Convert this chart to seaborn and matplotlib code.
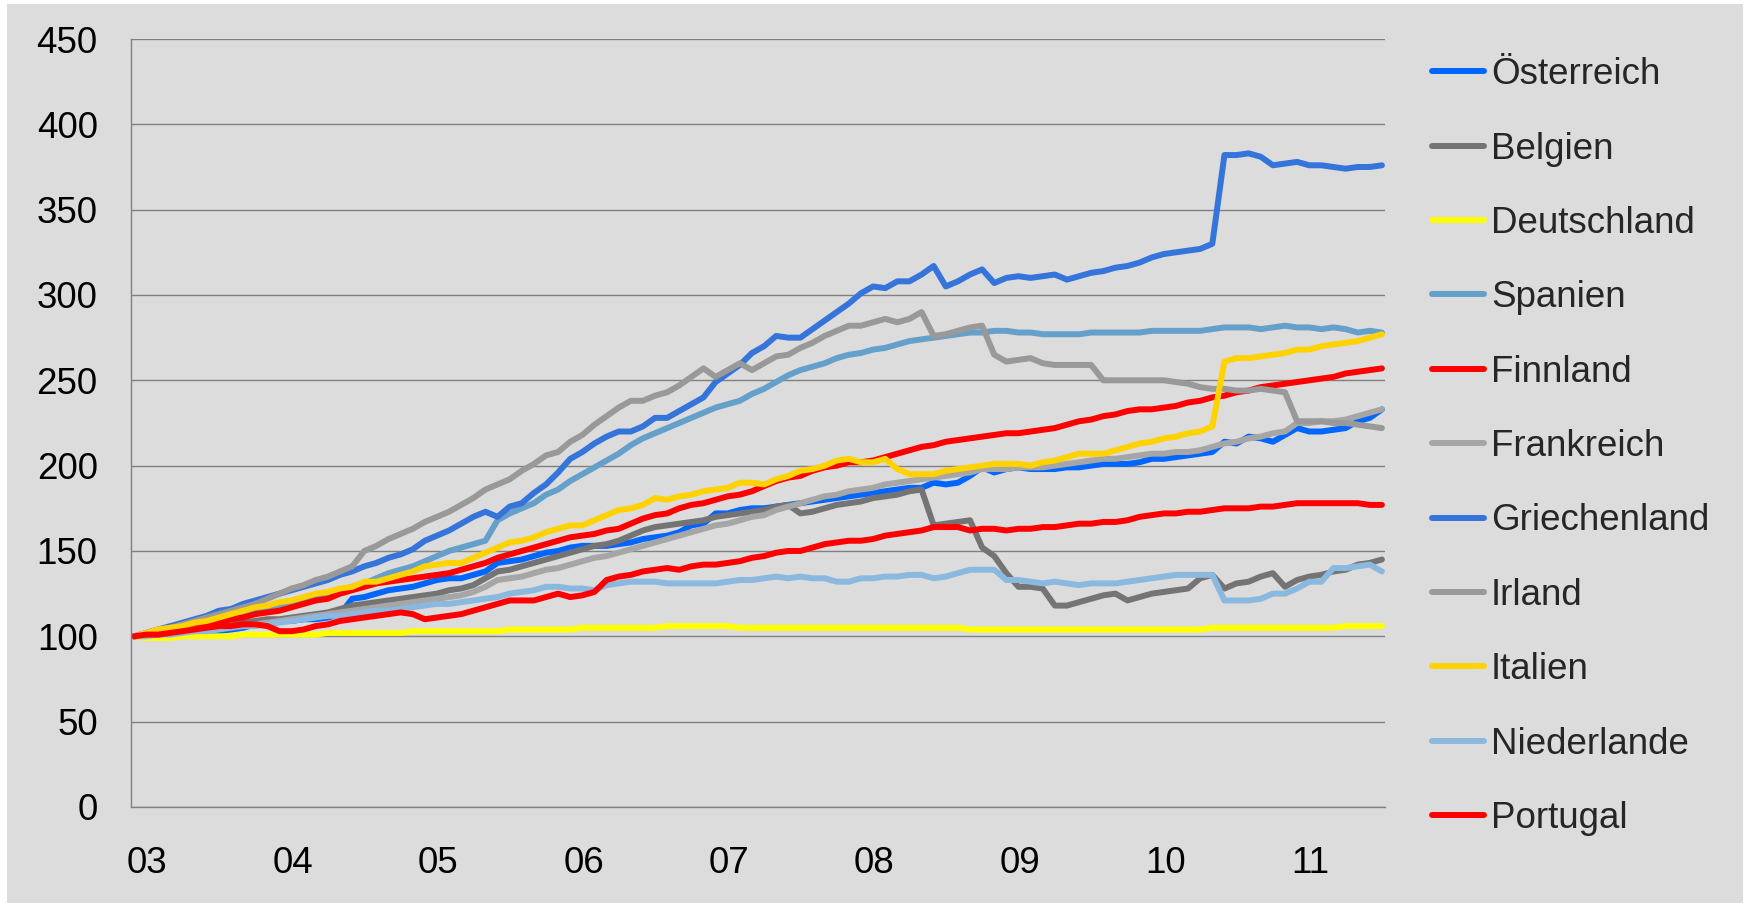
import numpy as np
import pandas as pd
import matplotlib
matplotlib.use("Agg")
import matplotlib.pyplot as plt
import seaborn as sns
from matplotlib.patches import Rectangle

# monthly index values, Jan 2003 = 100
countries = ["Österreich", "Belgien", "Deutschland", "Spanien", "Finnland",
             "Frankreich", "Griechenland", "Irland", "Italien", "Niederlande", "Portugal"]
colors = ["#0066FF", "#747474", "#FFFF00", "#65A0CB", "#FF0000",
          "#A6A6A6", "#3574DA", "#999999", "#FFD200", "#8BB8DF", "#FF0000"]
year_labels = ["03", "04", "05", "06", "07", "08", "09", "10", "11"]

oesterreich = [100, 101, 102, 102, 103, 103, 103, 103, 104, 105,
               107, 108, 109, 109, 110, 110, 111, 113, 122, 123,
               125, 127, 128, 129, 131, 133, 134, 134, 136, 138,
               143, 144, 145, 147, 149, 150, 152, 153, 153, 153,
               154, 155, 157, 158, 159, 161, 165, 166, 172, 172,
               174, 175, 175, 176, 177, 178, 179, 180, 181, 182,
               183, 184, 185, 186, 187, 187, 190, 189, 190, 194,
               199, 196, 198, 199, 198, 198, 198, 199, 199, 200,
               201, 201, 201, 202, 204, 204, 205, 206, 207, 208,
               214, 213, 217, 216, 214, 218, 222, 220, 220, 221,
               222, 226, 228, 233]
belgien = [100, 101, 102, 103, 104, 105, 106, 107, 107, 108,
           109, 110, 110, 111, 112, 113, 114, 116, 118, 119,
           120, 121, 122, 123, 124, 125, 127, 128, 130, 134,
           138, 139, 141, 143, 145, 147, 149, 151, 153, 154,
           156, 159, 162, 164, 165, 166, 167, 168, 170, 171,
           172, 173, 174, 176, 177, 172, 173, 175, 177, 178,
           179, 181, 182, 183, 185, 186, 165, 166, 167, 168,
           152, 147, 137, 129, 129, 128, 118, 118, 120, 122,
           124, 125, 121, 123, 125, 126, 127, 128, 134, 136,
           128, 131, 132, 135, 137, 129, 133, 135, 136, 138,
           139, 142, 143, 145]
deutschland = [100, 99, 99, 99, 100, 100, 100, 100, 100, 101,
               101, 101, 101, 101, 101, 101, 102, 102, 102, 102,
               102, 102, 102, 103, 103, 103, 103, 103, 103, 103,
               103, 104, 104, 104, 104, 104, 104, 105, 105, 105,
               105, 105, 105, 105, 106, 106, 106, 106, 106, 106,
               105, 105, 105, 105, 105, 105, 105, 105, 105, 105,
               105, 105, 105, 105, 105, 105, 105, 105, 105, 104,
               104, 104, 104, 104, 104, 104, 104, 104, 104, 104,
               104, 104, 104, 104, 104, 104, 104, 104, 104, 105,
               105, 105, 105, 105, 105, 105, 105, 105, 105, 105,
               106, 106, 106, 106]
spanien = [100, 101, 103, 104, 105, 106, 108, 110, 111, 112,
           114, 115, 117, 119, 121, 123, 125, 127, 129, 131,
           134, 137, 139, 141, 144, 147, 150, 152, 154, 156,
           168, 172, 175, 178, 183, 186, 191, 195, 199, 203,
           207, 212, 216, 219, 222, 225, 228, 231, 234, 236,
           238, 242, 245, 249, 253, 256, 258, 260, 263, 265,
           266, 268, 269, 271, 273, 274, 275, 276, 277, 278,
           278, 279, 279, 278, 278, 277, 277, 277, 277, 278,
           278, 278, 278, 278, 279, 279, 279, 279, 279, 280,
           281, 281, 281, 280, 281, 282, 281, 281, 280, 281,
           280, 278, 279, 278]
finnland = [100, 101, 102, 103, 105, 106, 107, 108, 110, 111,
            113, 114, 115, 117, 119, 121, 122, 125, 127, 129,
            131, 132, 133, 134, 135, 136, 137, 139, 141, 143,
            146, 148, 150, 152, 154, 156, 158, 159, 160, 162,
            163, 166, 169, 171, 172, 175, 177, 178, 180, 182,
            183, 185, 188, 191, 193, 194, 197, 199, 200, 202,
            202, 203, 205, 207, 209, 211, 212, 214, 215, 216,
            217, 218, 219, 219, 220, 221, 222, 224, 226, 227,
            229, 230, 232, 233, 233, 234, 235, 237, 238, 240,
            241, 243, 244, 246, 247, 248, 249, 250, 251, 252,
            254, 255, 256, 257]
frankreich = [100, 101, 101, 102, 103, 104, 104, 105, 106, 106,
              107, 108, 109, 110, 111, 112, 113, 114, 115, 116,
              117, 118, 119, 120, 121, 122, 123, 124, 126, 129,
              133, 134, 135, 137, 139, 140, 142, 144, 146, 147,
              149, 151, 153, 155, 157, 159, 161, 163, 165, 166,
              168, 170, 171, 174, 176, 178, 180, 182, 183, 185,
              186, 187, 189, 190, 191, 192, 193, 194, 195, 196,
              198, 198, 198, 199, 199, 199, 200, 201, 202, 203,
              204, 204, 205, 206, 207, 207, 208, 208, 209, 211,
              213, 214, 216, 217, 219, 220, 225, 225, 226, 226,
              227, 229, 231, 233]
griechenland = [100, 102, 104, 106, 108, 110, 112, 115, 116, 119,
                121, 123, 125, 127, 129, 131, 133, 136, 138, 141,
                143, 146, 148, 151, 156, 159, 162, 166, 170, 173,
                170, 176, 178, 184, 189, 196, 204, 208, 213, 217,
                220, 220, 223, 228, 228, 232, 236, 240, 249, 254,
                259, 266, 270, 276, 275, 275, 280, 285, 290, 295,
                301, 305, 304, 308, 308, 312, 317, 305, 308, 312,
                315, 307, 310, 311, 310, 311, 312, 309, 311, 313,
                314, 316, 317, 319, 322, 324, 325, 326, 327, 330,
                382, 382, 383, 381, 376, 377, 378, 376, 376, 375,
                374, 375, 375, 376]
irland = [100, 102, 104, 105, 107, 109, 111, 113, 115, 117,
          119, 122, 125, 128, 130, 133, 135, 138, 141, 150,
          153, 157, 160, 163, 167, 170, 173, 177, 181, 186,
          189, 192, 197, 201, 206, 208, 214, 218, 224, 229,
          234, 238, 238, 241, 243, 247, 252, 257, 252, 256,
          260, 256, 260, 264, 265, 269, 272, 276, 279, 282,
          282, 284, 286, 284, 286, 290, 276, 277, 279, 281,
          282, 265, 261, 262, 263, 260, 259, 259, 259, 259,
          250, 250, 250, 250, 250, 250, 249, 248, 246, 245,
          245, 244, 244, 245, 244, 243, 226, 226, 226, 225,
          225, 224, 223, 222]
italien = [100, 102, 104, 105, 106, 108, 109, 111, 113, 115,
           117, 118, 120, 121, 123, 125, 126, 128, 129, 132,
           132, 134, 136, 138, 141, 142, 143, 143, 146, 149,
           152, 155, 156, 158, 161, 163, 165, 165, 168, 171,
           174, 175, 177, 181, 180, 182, 183, 185, 186, 187,
           190, 190, 189, 192, 194, 197, 198, 200, 203, 204,
           202, 202, 204, 198, 195, 195, 195, 197, 198, 199,
           200, 201, 201, 201, 200, 202, 203, 205, 207, 207,
           207, 209, 211, 213, 214, 216, 217, 219, 220, 223,
           261, 263, 263, 264, 265, 266, 268, 268, 270, 271,
           272, 273, 275, 277]
niederlande = [100, 100, 101, 101, 102, 103, 103, 104, 105, 106,
               106, 107, 108, 109, 110, 111, 112, 112, 113, 114,
               115, 115, 116, 117, 118, 119, 119, 120, 121, 122,
               123, 125, 126, 127, 129, 129, 128, 128, 127, 130,
               131, 132, 132, 132, 131, 131, 131, 131, 131, 132,
               133, 133, 134, 135, 134, 135, 134, 134, 132, 132,
               134, 134, 135, 135, 136, 136, 134, 135, 137, 139,
               139, 139, 133, 133, 132, 131, 132, 131, 130, 131,
               131, 131, 132, 133, 134, 135, 136, 136, 136, 136,
               121, 121, 121, 122, 125, 125, 128, 132, 132, 140,
               140, 141, 142, 138]
portugal = [100, 101, 101, 102, 103, 104, 105, 106, 106, 107,
            107, 106, 103, 103, 104, 106, 107, 109, 110, 111,
            112, 113, 114, 113, 110, 111, 112, 113, 115, 117,
            119, 121, 121, 121, 123, 125, 123, 124, 126, 133,
            135, 136, 138, 139, 140, 139, 141, 142, 142, 143,
            144, 146, 147, 149, 150, 150, 152, 154, 155, 156,
            156, 157, 159, 160, 161, 162, 164, 164, 164, 162,
            163, 163, 162, 163, 163, 164, 164, 165, 166, 166,
            167, 167, 168, 170, 171, 172, 172, 173, 173, 174,
            175, 175, 175, 176, 176, 177, 178, 178, 178, 178,
            178, 178, 177, 177]

series = [oesterreich, belgien, deutschland, spanien, finnland, frankreich,
          griechenland, irland, italien, niederlande, portugal]

months = np.arange(len(oesterreich))
wide = pd.DataFrame(dict(zip(countries, series)))
wide["monat"] = months
df = wide.melt(id_vars="monat", var_name="land", value_name="wert")

bg = "#DCDCDC"
grid_col = "#808080"

sns.set_style("white")
plt.rcParams["font.family"] = ["Liberation Sans", "DejaVu Sans"]

fig = plt.figure(figsize=(17.5, 9.07), dpi=100, facecolor="white")
fig.patches.append(Rectangle((7 / 1750, 4 / 907), 1736 / 1750, 899 / 907,
                             transform=fig.transFigure, facecolor=bg,
                             edgecolor="none", zorder=-10))
ax = fig.add_axes([0.0749, 0.1103, 0.7165, 0.8467])
ax.set_facecolor(bg)

sns.lineplot(
    data=df, x="monat", y="wert", hue="land",
    hue_order=countries,
    palette=dict(zip(countries, colors)),
    linewidth=4.3,
    solid_capstyle="round",
    ax=ax
)

ax.set_xlim(-0.25, 103.25)
ax.set_ylim(0, 450)
ax.set_yticks(range(0, 451, 50))
ax.set_xticks([12 * i + 1.1 for i in range(len(year_labels))])
ax.set_xticklabels(year_labels)
ax.set_xlabel("")
ax.set_ylabel("")

ax.yaxis.grid(True, color=grid_col, linewidth=1.0)
ax.xaxis.grid(False)
ax.set_axisbelow(True)
for side in ["top", "right"]:
    ax.spines[side].set_visible(False)
for side in ["left", "bottom"]:
    ax.spines[side].set_color(grid_col)
    ax.spines[side].set_linewidth(1.0)

ax.tick_params(axis="y", length=0, pad=24, labelsize=26.5, labelcolor="black")
ax.tick_params(axis="x", length=0, pad=28, labelsize=26.5, labelcolor="black")

sns.move_legend(
    ax, "upper left",
    bbox_to_anchor=(1432 / 1750, 0.937),
    bbox_transform=fig.transFigure,
    title=None,
    frameon=False,
    fontsize=26.5,
    handlelength=1.4,
    handletextpad=0.2,
    labelspacing=1.07,
    borderaxespad=0,
    borderpad=0
)

fig.savefig("out.png", dpi=100, facecolor=fig.get_facecolor())
